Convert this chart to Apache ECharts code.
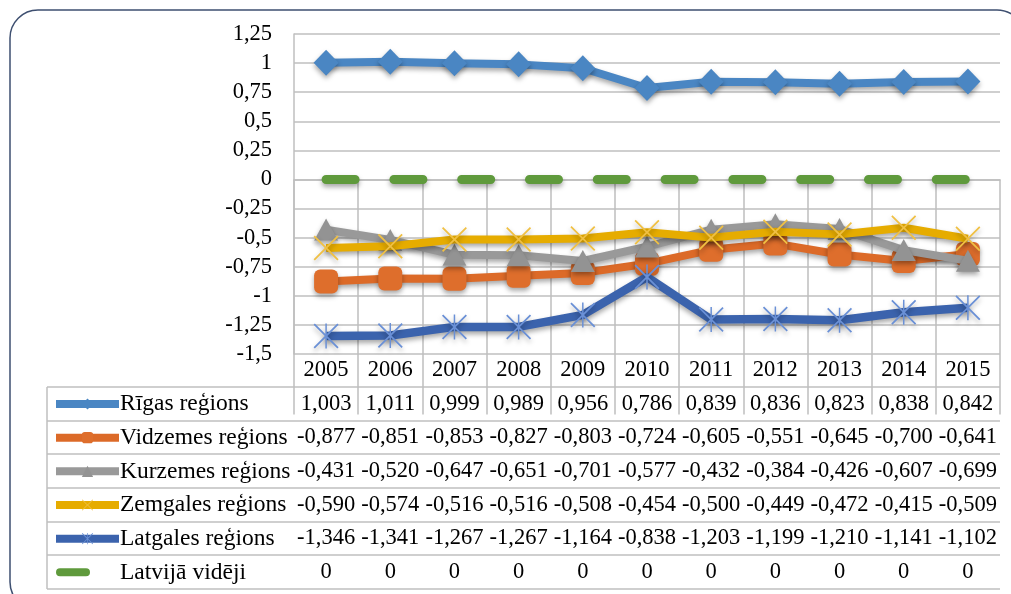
<!DOCTYPE html>
<html>
<head>
    <meta charset="utf-8">
    <title>Reģionu attīstības indekss</title>
    <script src="https://cdn.jsdelivr.net/npm/echarts@6/dist/echarts.min.js"></script>
    <style>
        * {
            margin: 0;
            padding: 0;
        }
        #main {
            width: 1011px;
            height: 594px;
        }
    </style>
</head>
<body>
<div id="main"></div>
<script>
    var years = ['2005', '2006', '2007', '2008', '2009', '2010', '2011', '2012', '2013', '2014', '2015'];
    var names = ['Rīgas reģions', 'Vidzemes reģions', 'Kurzemes reģions', 'Zemgales reģions', 'Latgales reģions', 'Latvijā vidēji'];
    var riga    = [1.003, 1.011, 0.999, 0.989, 0.956, 0.786, 0.839, 0.836, 0.823, 0.838, 0.842];
    var vidzeme = [-0.877, -0.851, -0.853, -0.827, -0.803, -0.724, -0.605, -0.551, -0.645, -0.700, -0.641];
    var kurzeme = [-0.431, -0.520, -0.647, -0.651, -0.701, -0.577, -0.432, -0.384, -0.426, -0.607, -0.699];
    var zemgale = [-0.590, -0.574, -0.516, -0.516, -0.508, -0.454, -0.500, -0.449, -0.472, -0.415, -0.509];
    var latgale = [-1.346, -1.341, -1.267, -1.267, -1.164, -0.838, -1.203, -1.199, -1.210, -1.141, -1.102];
    var latvija = [0, 0, 0, 0, 0, 0, 0, 0, 0, 0, 0];
    var yTicks  = { min: -1.5, max: 1.25, step: 0.25 };

    var allData = [riga, vidzeme, kurzeme, zemgale, latgale, latvija];

    // layout of the table under the plot
    var FONT = 'Liberation Serif';
    var plotLeft = 294, plotRight = 1000, axisY = 354;
    var tableLeft = 47, headBottom = 387, tableBottom = 589;
    var rowH = (tableBottom - headBottom) / 6;
    var gridColor = '#bfbfbf';

    var crossPath = 'path://M0,1 L1,0 L10,9 L19,0 L20,1 L11,10 L20,19 L19,20 L10,11 L1,20 L0,19 L9,10 Z';
    var starPath = crossPath + ' M9.4,0 L10.6,0 L10.6,20 L9.4,20 Z';
    // short rounded dash for the "Latvijā vidēji" legend key (box 63 x 14)
    var dashIcon = 'path://M4,3 L30,3 A4,4 0 0 1 30,11 L4,11 A4,4 0 0 1 4,3 Z M0,0 L0.01,0 L0,0.01 Z M63,14 L62.99,14 L63,13.99 Z';

    var shadow = { shadowColor: 'rgba(0,0,0,0.35)', shadowBlur: 5, shadowOffsetY: 3 };

    function fmt(v) {
        if (v === 0) return '0';
        return v.toFixed(3).replace('.', ',');
    }

    function lineSeries(i, color, markColor, symbol, size, width, extra) {
        var ls = Object.assign({ color: color, width: width }, shadow, extra || {});
        return {
            name: names[i],
            type: 'line',
            data: allData[i],
            symbol: symbol,
            symbolSize: size,
            showSymbol: symbol !== 'none',
            lineStyle: ls,
            itemStyle: Object.assign({ color: markColor }, shadow),
            emphasis: { disabled: true },
            z: 2 + i
        };
    }

    var legendData = names.map(function (n, i) {
        return i === 5 ? { name: n, icon: dashIcon, itemStyle: { color: '#5f9a3c' } } : { name: n };
    });

    var chart = echarts.init(document.getElementById('main'));
    var option = {
        animation: false,
        textStyle: { fontFamily: FONT },
        grid: {
            left: plotLeft,
            right: 1011 - plotRight,
            top: 34,
            bottom: 594 - axisY
        },
        legend: {
            orient: 'vertical',
            left: 52,
            top: 392,
            height: 300,
            padding: 0,
            itemWidth: 63,
            itemHeight: 14,
            itemGap: rowH - 24,
            selectedMode: false,
            textStyle: { fontSize: 23.5, lineHeight: 24, color: '#000', fontFamily: FONT, padding: [0, 0, 0, -4] },
            lineStyle: { width: 8, shadowBlur: 0, shadowOffsetY: 0 },
            itemStyle: { shadowBlur: 0, shadowOffsetY: 0 },
            data: legendData
        },
        xAxis: {
            type: 'category',
            data: years,
            boundaryGap: true,
            axisLine: { lineStyle: { color: gridColor, width: 1.5 } },
            axisTick: { show: true, interval: 0, length: tableBottom - axisY, lineStyle: { color: gridColor, width: 1.5 } },
            axisLabel: { interval: 0, margin: 5, fontSize: 22.5, fontFamily: FONT, color: '#000' },
            splitLine: { show: false }
        },
        yAxis: {
            type: 'value',
            min: yTicks.min,
            max: yTicks.max,
            interval: yTicks.step,
            axisLine: { show: true, lineStyle: { color: gridColor, width: 1.5 } },
            axisTick: { show: false },
            splitLine: { lineStyle: { color: gridColor, width: 1.5 } },
            axisLabel: {
                margin: 22,
                fontSize: 22.5,
                fontFamily: FONT,
                color: '#000',
                formatter: function (v) { return String(v).replace('.', ','); }
            }
        },
        series: [
            lineSeries(0, '#4a86c3', '#4a86c3', 'diamond', [25, 26], 8),
            lineSeries(1, '#dc6a28', '#de6e2c', 'roundRect', 24, 8),
            lineSeries(2, '#999999', '#939393', 'triangle', [24, 22], 8),
            lineSeries(3, '#e6ac00', '#f0c043', crossPath, 25, 8),
            lineSeries(4, '#3b63ad', '#6a90d6', starPath, 25, 8.5),
            lineSeries(5, '#5f9a3c', '#5f9a3c', 'none', 0, 9, { type: [29, 38.8], cap: 'round' })
        ]
    };
    chart.setOption(option);

    // table: cell texts placed at the category centres of the x axis
    var xs = years.map(function (y, i) { return chart.convertToPixel({ xAxisIndex: 0 }, i); });
    var graphics = [];
    graphics.push({
        type: 'rect',
        shape: { x: 10, y: 10, width: 1015, height: 600, r: 28 },
        style: { fill: 'none', stroke: '#3e4f70', lineWidth: 1.5 },
        silent: true
    });
    for (var r = 0; r <= 6; r++) {
        var ly = Math.round(headBottom + r * rowH);
        graphics.push({
            type: 'line',
            shape: { x1: tableLeft, y1: ly, x2: plotRight, y2: ly },
            style: { stroke: gridColor, lineWidth: 1.5 },
            silent: true
        });
    }
    graphics.push({
        type: 'line',
        shape: { x1: tableLeft, y1: headBottom, x2: tableLeft, y2: tableBottom },
        style: { stroke: gridColor, lineWidth: 1.5 },
        silent: true
    });
    allData.forEach(function (arr, r) {
        var cy = headBottom + (r + 0.5) * rowH;
        arr.forEach(function (v, i) {
            graphics.push({
                type: 'text',
                x: xs[i],
                y: cy,
                silent: true,
                style: {
                    text: fmt(v),
                    fontSize: 22.5,
                    fontFamily: FONT,
                    fill: '#000',
                    align: 'center',
                    verticalAlign: 'middle'
                }
            });
        });
    });
    chart.setOption({ graphic: graphics });
</script>
</body>
</html>
